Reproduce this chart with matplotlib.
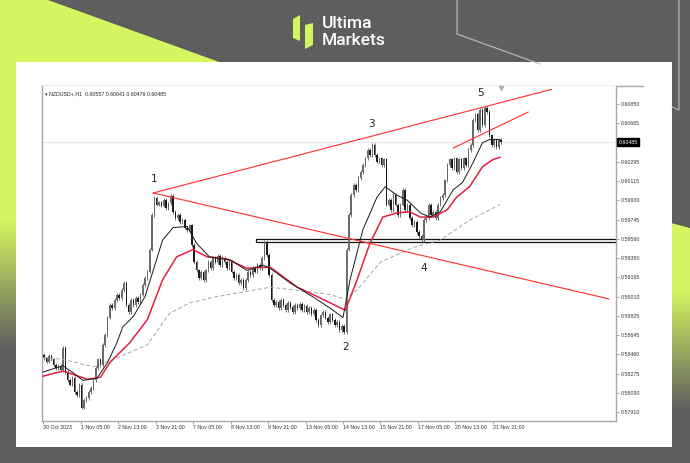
import numpy as np
import matplotlib
matplotlib.use('Agg')
from matplotlib import pyplot as plt
from matplotlib.patches import Polygon, Rectangle

plt.rcParams['font.family'] = ['Liberation Sans', 'DejaVu Sans']

# ---- data (NZDUSD, one candle = 2 H1 bars) ----
first_open = 0.5845
closes = [
    0.5842, 0.5839, 0.5844, 0.5841, 0.5836, 0.5833, 0.5835, 0.5831, 0.5852, 0.5829,
    0.5821, 0.5817, 0.5823, 0.5810, 0.5807, 0.5817, 0.5795, 0.5802, 0.5804, 0.5810,
    0.5814, 0.5821, 0.5833, 0.5841, 0.5836, 0.5855, 0.5864, 0.5881, 0.5893, 0.5890,
    0.5898, 0.5903, 0.5900, 0.5907, 0.5914, 0.5893, 0.5886, 0.5898, 0.5893, 0.5900,
    0.5896, 0.5903, 0.5912, 0.5919, 0.5925, 0.5946, 0.5979, 0.5995, 0.5989, 0.5991,
    0.5988, 0.5993, 0.5986, 0.5990, 0.5997, 0.5982, 0.5976, 0.5979, 0.5972, 0.5974,
    0.5967, 0.5965, 0.5969, 0.5950, 0.5934, 0.5926, 0.5919, 0.5925, 0.5917, 0.5926,
    0.5934, 0.5928, 0.5938, 0.5934, 0.5940, 0.5931, 0.5938, 0.5934, 0.5928, 0.5934,
    0.5925, 0.5919, 0.5922, 0.5914, 0.5917, 0.5909, 0.5917, 0.5925, 0.5922, 0.5928,
    0.5925, 0.5931, 0.5928, 0.5938, 0.5953, 0.5941, 0.5922, 0.5898, 0.5893, 0.5896,
    0.5890, 0.5898, 0.5893, 0.5888, 0.5895, 0.5891, 0.5886, 0.5893, 0.5890, 0.5894,
    0.5888, 0.5892, 0.5886, 0.5890, 0.5884, 0.5888, 0.5879, 0.5874, 0.5883, 0.5886,
    0.5881, 0.5877, 0.5884, 0.5879, 0.5874, 0.5877, 0.5869, 0.5873, 0.5867, 0.5946,
    0.5979, 0.5998, 0.6008, 0.6003, 0.6014, 0.6020, 0.6027, 0.6033, 0.6041, 0.6036,
    0.6046, 0.6036, 0.6030, 0.6033, 0.6027, 0.6032, 0.5989, 0.5993, 0.5984, 0.5998,
    0.5989, 0.5979, 0.5989, 0.6003, 0.5984, 0.5989, 0.5976, 0.5969, 0.5972, 0.5963,
    0.5959, 0.5955, 0.5974, 0.5976, 0.5989, 0.5979, 0.5982, 0.5976, 0.5989, 0.5995,
    0.5998, 0.6012, 0.6027, 0.6032, 0.6024, 0.6033, 0.6020, 0.6032, 0.6024, 0.6033,
    0.6027, 0.6041, 0.6046, 0.6070, 0.6075, 0.6060, 0.6079, 0.6065, 0.6081, 0.6077,
    0.6055, 0.6046, 0.6051, 0.6044, 0.6051, 0.60485,
]

# moving averages (bar index, price)
ma_fast_bars = [0, 17, 26, 34, 46, 55, 63, 68, 77, 87, 94, 102, 111, 123, 131, 142, 160,
                174, 188, 194, 211, 230, 245, 256, 262, 273, 285, 292, 302, 311, 322,
                330, 339, 350, 358, 367, 375, 381, 390]
ma_fast = [0.5829, 0.5835, 0.5828, 0.5821, 0.5823, 0.5838, 0.5857, 0.5872, 0.5882, 0.5901,
           0.5926, 0.5955, 0.5967, 0.5968, 0.5952, 0.5939, 0.5936, 0.5926, 0.5931, 0.5928,
           0.5914, 0.5901, 0.5890, 0.5881, 0.5917, 0.5965, 0.5996, 0.6006, 0.5998, 0.5993,
           0.5981, 0.5977, 0.5982, 0.6003, 0.6010, 0.6029, 0.6048, 0.6051, 0.6051]

ma_slow_bars = [0, 17, 38, 49, 57, 74, 89, 102, 114, 128, 140, 157, 174, 188, 194, 217,
                236, 258, 268, 279, 290, 302, 313, 322, 333, 345, 353, 364, 375, 384, 390]
ma_slow = [0.5825, 0.5830, 0.5822, 0.5824, 0.5838, 0.5857, 0.5879, 0.5917, 0.5939, 0.5946,
           0.5939, 0.5937, 0.5928, 0.5929, 0.5929, 0.5910, 0.5900, 0.5888, 0.5917, 0.5952,
           0.5977, 0.5981, 0.5982, 0.5977, 0.5977, 0.5984, 0.5996, 0.6006, 0.6025, 0.6032,
           0.6034]

ma_long_bars = [0, 17, 43, 60, 89, 108, 125, 148, 174, 194, 217, 245, 259, 270, 288, 316,
                339, 364, 390]
ma_long = [0.5843, 0.5841, 0.5834, 0.5841, 0.5855, 0.5885, 0.5895, 0.5901, 0.5906, 0.5910,
           0.5907, 0.5903, 0.5898, 0.5910, 0.5934, 0.5948, 0.5955, 0.5974, 0.5989]

# trend lines, support zone, wave labels
upper_bars, upper_prices = [94, 434], [0.6000, 0.6099]
lower_bars, lower_prices = [94, 483], [0.6000, 0.58988]
channel_bars, channel_prices = [350, 414], [0.60429, 0.60773]
zone_start, zone_low, zone_high = 182, 0.5953, 0.5956
wave_labels = ['1', '2', '3', '4', '5']
wave_bars = [95, 258, 280, 325, 373]
wave_prices = [0.60134, 0.58529, 0.60659, 0.59284, 0.60955]

price_ticks = [0.60850, 0.60665, 0.60295, 0.60115, 0.59930, 0.59745, 0.59560, 0.59380,
               0.59195, 0.59010, 0.58825, 0.58645, 0.58460, 0.58275, 0.58090, 0.57910]
last_price = 0.60485
time_bars = [0, 32, 64, 96, 128, 160, 192, 224, 256, 288, 320, 352, 384]
time_labels = ['30 Oct 2023', '1 Nov 05:00', '2 Nov 13:00', '3 Nov 21:00', '7 Nov 05:00',
               '8 Nov 13:00', '9 Nov 21:00', '13 Nov 05:00', '14 Nov 13:00', '15 Nov 21:00',
               '17 Nov 05:00', '20 Nov 13:00', '21 Nov 21:00']
header = 'NZDUSD+,H1  0.60557 0.60641 0.60476 0.60485'

# ---- styles ----
GRAY = '#5e5e5e'
LIME = '#d4f660'
W, H = 690, 463

fig = plt.figure(figsize=(6.9, 4.63), dpi=100, facecolor=GRAY)

# background decoration
bg = fig.add_axes([0, 0, 1, 1])
bg.set_facecolor(GRAY)
bg.add_patch(Polygon([(0, 0), (48, 0), (222, 63), (0, 63)], closed=True, fc=LIME, ec='none'))


def fade(y0, y1, solid_to, gray_at):
    ys = np.linspace(y0, y1, 200)
    t = np.clip((ys - solid_to) / (gray_at - solid_to), 0, 1)[:, None, None]
    c1 = np.array(matplotlib.colors.to_rgb(LIME))
    c2 = np.array(matplotlib.colors.to_rgb(GRAY))
    return c1 * (1 - t) + c2 * t


bg.imshow(fade(62, 463, 220, 350), extent=(0, 17, 463, 62), origin='upper', aspect='auto')
img = bg.imshow(fade(220, 463, 290, 410), extent=(671, 690, 463, 220), origin='upper', aspect='auto')
clip = Polygon([(671, 223), (690, 228), (690, 463), (671, 463)], closed=True, fc='none', ec='none')
bg.add_patch(clip)
img.set_clip_path(clip)

bg.plot([457, 457, 540], [0, 34, 64], color='#bdbdbd', lw=0.8)
bg.plot([672, 679, 679], [107, 110, 0], color='#bdbdbd', lw=0.8)
bg.add_patch(Rectangle((16, 62), 656, 385, fc='white', ec='none'))

# logo
bg.add_patch(Polygon([(293, 19), (300, 15), (300, 41), (293, 38)], closed=True, fc=LIME, ec='none'))
bg.add_patch(Polygon([(305, 25), (313, 23), (313, 45), (305, 49)], closed=True, fc=LIME, ec='none'))
bg.text(322, 24, 'Ultima', color='white', fontsize=12.5, family='Roboto', fontweight='medium', va='center')
bg.text(322, 40.5, 'Markets', color='white', fontsize=12.5, family='Roboto', fontweight='medium', va='center')
bg.plot([42, 643], [86, 86], color='#a8a8a8', lw=1)
bg.set_xlim(0, W)
bg.set_ylim(H, 0)
bg.axis('off')

# chart
ax = fig.add_axes([42 / W, 1 - 421 / H, (616 - 42) / W, (421 - 86) / H])
ax.set_facecolor('white')
for s in ax.spines.values():
    s.set_color('#a8a8a8')
    s.set_linewidth(1)
ax.spines['top'].set_visible(False)

ax.axhline(last_price, color='#e6e6e6', lw=0.8, zorder=1)
ax.add_patch(Rectangle((zone_start, zone_low), 600, zone_high - zone_low,
                       fc='white', ec='#111111', lw=0.9, zorder=2))

c = np.array(closes)
o = np.array([first_open] + closes[:-1])
xs = 2 * np.arange(len(c)) + 1
wick = 0.00018
up = c >= o
ax.vlines(xs, np.minimum(o, c) - wick, np.maximum(o, c) + wick, color='#5a5a5a', lw=0.6, zorder=3)
ax.bar(xs, np.maximum(np.abs(c - o), 0.00004), bottom=np.minimum(o, c), width=1.25,
       color=np.where(up, '#6a6a6a', '#1a1a1a'), lw=0, zorder=3)

ax.plot(ma_long_bars, ma_long, color='#a5a5a5', lw=0.7, dashes=(4, 2.5), zorder=4)
ax.plot(ma_slow_bars, ma_slow, color='#e3203f', lw=1.1, zorder=4)
ax.plot(ma_fast_bars, ma_fast, color='#1a1a1a', lw=0.7, zorder=5)

for bx, py in [(upper_bars, upper_prices), (lower_bars, lower_prices), (channel_bars, channel_prices)]:
    ax.plot(bx, py, color='#ff2d2d', lw=0.8, zorder=6)

for lab, bx, py in zip(wave_labels, wave_bars, wave_prices):
    ax.text(bx, py, lab, fontsize=7.5, color='#222222', ha='center', va='center',
            family='DejaVu Sans', zorder=7)

ax.plot(391, 0.6100, marker='v', ms=3, color='#b0b0b0', clip_on=False, zorder=7)

ax.set_xlim(-0.9, 489)
ax.set_ylim(0.57822, 0.61022)

ax.yaxis.tick_right()
ax.set_yticks(price_ticks)
ax.set_yticklabels(['%.5f' % p for p in price_ticks])
ax.tick_params(axis='y', length=2, width=0.6, color='#9a9a9a', labelsize=3.8,
               labelcolor='#333333', pad=1.5)
ax.set_xticks(time_bars)
ax.set_xticklabels(time_labels)
ax.tick_params(axis='x', length=2, width=0.6, color='#9a9a9a', labelsize=3.8,
               labelcolor='#333333', pad=1.2)
for t in ax.get_xticklabels():
    t.set_horizontalalignment('left')

ax.text(1.0 + 2.5 / 574, last_price, '%.5f' % last_price, transform=ax.get_yaxis_transform(),
        fontsize=3.8, color='white', va='center', ha='left',
        bbox=dict(boxstyle='square,pad=0.25', fc='black', ec='black'), zorder=8, clip_on=False)
ax.text(0.006, 0.985, '\u25be ' + header, transform=ax.transAxes, fontsize=3.8,
        color='#222222', va='top', ha='left')

fig.savefig('out.png', dpi=100, facecolor=GRAY)
plt.close('all')
